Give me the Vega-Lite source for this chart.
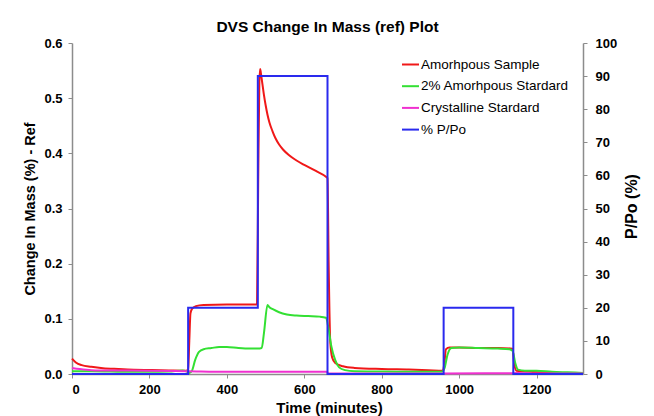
{
  "$schema": "https://vega.github.io/schema/vega-lite/v6.json",
  "width": 511,
  "height": 331,
  "autosize": "none",
  "padding": {"left": 72, "top": 43, "right": 71, "bottom": 42},
  "background": "white",
  "config": {
    "font": "Liberation Sans",
    "view": {"stroke": null},
    "axis": {
      "grid": false,
      "domainColor": "#8c8c8c",
      "domainWidth": 1.5,
      "tickColor": "#8c8c8c",
      "tickWidth": 1,
      "tickSize": 4,
      "labelFont": "Liberation Sans",
      "labelFontWeight": "bold",
      "labelFontSize": 13,
      "labelColor": "#000000",
      "titleFont": "Liberation Sans",
      "titleFontWeight": "bold",
      "titleFontSize": 14.5,
      "titleColor": "#000000"
    }
  },
  "title": {
    "text": "DVS Change In Mass (ref) Plot",
    "font": "Liberation Sans",
    "fontSize": 15.5,
    "fontWeight": "bold",
    "color": "#000000",
    "anchor": "middle",
    "baseline": "alphabetic",
    "offset": 14,
    "dy": 24
  },
  "datasets": {
    "mass": [
      {"s": "Amorhpous Sample", "t": 0, "v": 0.028},
      {"s": "Amorhpous Sample", "t": 10, "v": 0.021},
      {"s": "Amorhpous Sample", "t": 25, "v": 0.016},
      {"s": "Amorhpous Sample", "t": 50, "v": 0.013},
      {"s": "Amorhpous Sample", "t": 80, "v": 0.0105},
      {"s": "Amorhpous Sample", "t": 120, "v": 0.009},
      {"s": "Amorhpous Sample", "t": 160, "v": 0.0078},
      {"s": "Amorhpous Sample", "t": 200, "v": 0.0072},
      {"s": "Amorhpous Sample", "t": 250, "v": 0.0065},
      {"s": "Amorhpous Sample", "t": 295, "v": 0.006},
      {"s": "Amorhpous Sample", "t": 300, "v": 0.008},
      {"s": "Amorhpous Sample", "t": 303, "v": 0.06},
      {"s": "Amorhpous Sample", "t": 306, "v": 0.11},
      {"s": "Amorhpous Sample", "t": 310, "v": 0.118},
      {"s": "Amorhpous Sample", "t": 320, "v": 0.123},
      {"s": "Amorhpous Sample", "t": 340, "v": 0.125},
      {"s": "Amorhpous Sample", "t": 400, "v": 0.126},
      {"s": "Amorhpous Sample", "t": 460, "v": 0.126},
      {"s": "Amorhpous Sample", "t": 478, "v": 0.126},
      {"s": "Amorhpous Sample", "t": 481, "v": 0.35},
      {"s": "Amorhpous Sample", "t": 484, "v": 0.53},
      {"s": "Amorhpous Sample", "t": 486, "v": 0.553},
      {"s": "Amorhpous Sample", "t": 488, "v": 0.545},
      {"s": "Amorhpous Sample", "t": 492, "v": 0.525},
      {"s": "Amorhpous Sample", "t": 496, "v": 0.505},
      {"s": "Amorhpous Sample", "t": 500, "v": 0.488},
      {"s": "Amorhpous Sample", "t": 505, "v": 0.47},
      {"s": "Amorhpous Sample", "t": 510, "v": 0.456},
      {"s": "Amorhpous Sample", "t": 518, "v": 0.44},
      {"s": "Amorhpous Sample", "t": 526, "v": 0.427},
      {"s": "Amorhpous Sample", "t": 535, "v": 0.416},
      {"s": "Amorhpous Sample", "t": 545, "v": 0.407},
      {"s": "Amorhpous Sample", "t": 560, "v": 0.397},
      {"s": "Amorhpous Sample", "t": 580, "v": 0.387},
      {"s": "Amorhpous Sample", "t": 600, "v": 0.379},
      {"s": "Amorhpous Sample", "t": 630, "v": 0.368},
      {"s": "Amorhpous Sample", "t": 657, "v": 0.357},
      {"s": "Amorhpous Sample", "t": 660, "v": 0.355},
      {"s": "Amorhpous Sample", "t": 663, "v": 0.2},
      {"s": "Amorhpous Sample", "t": 667, "v": 0.06},
      {"s": "Amorhpous Sample", "t": 672, "v": 0.03},
      {"s": "Amorhpous Sample", "t": 680, "v": 0.02},
      {"s": "Amorhpous Sample", "t": 700, "v": 0.014},
      {"s": "Amorhpous Sample", "t": 730, "v": 0.011},
      {"s": "Amorhpous Sample", "t": 800, "v": 0.009},
      {"s": "Amorhpous Sample", "t": 870, "v": 0.008},
      {"s": "Amorhpous Sample", "t": 920, "v": 0.007},
      {"s": "Amorhpous Sample", "t": 958, "v": 0.006},
      {"s": "Amorhpous Sample", "t": 962, "v": 0.02},
      {"s": "Amorhpous Sample", "t": 966, "v": 0.045},
      {"s": "Amorhpous Sample", "t": 975, "v": 0.048},
      {"s": "Amorhpous Sample", "t": 1000, "v": 0.048},
      {"s": "Amorhpous Sample", "t": 1050, "v": 0.047},
      {"s": "Amorhpous Sample", "t": 1100, "v": 0.047},
      {"s": "Amorhpous Sample", "t": 1138, "v": 0.046},
      {"s": "Amorhpous Sample", "t": 1142, "v": 0.02},
      {"s": "Amorhpous Sample", "t": 1148, "v": 0.006},
      {"s": "Amorhpous Sample", "t": 1180, "v": 0.004},
      {"s": "Amorhpous Sample", "t": 1220, "v": 0.003},
      {"s": "Amorhpous Sample", "t": 1260, "v": 0.002},
      {"s": "Amorhpous Sample", "t": 1320, "v": 0.002},

      {"s": "2% Amorhpous Stardard", "t": 0, "v": 0.005},
      {"s": "2% Amorhpous Stardard", "t": 50, "v": 0.005},
      {"s": "2% Amorhpous Stardard", "t": 100, "v": 0.0045},
      {"s": "2% Amorhpous Stardard", "t": 150, "v": 0.004},
      {"s": "2% Amorhpous Stardard", "t": 200, "v": 0.004},
      {"s": "2% Amorhpous Stardard", "t": 250, "v": 0.0045},
      {"s": "2% Amorhpous Stardard", "t": 285, "v": 0.0065},
      {"s": "2% Amorhpous Stardard", "t": 295, "v": 0.005},
      {"s": "2% Amorhpous Stardard", "t": 303, "v": 0.002},
      {"s": "2% Amorhpous Stardard", "t": 310, "v": 0.006},
      {"s": "2% Amorhpous Stardard", "t": 318, "v": 0.025},
      {"s": "2% Amorhpous Stardard", "t": 328, "v": 0.04},
      {"s": "2% Amorhpous Stardard", "t": 340, "v": 0.045},
      {"s": "2% Amorhpous Stardard", "t": 360, "v": 0.047},
      {"s": "2% Amorhpous Stardard", "t": 380, "v": 0.049},
      {"s": "2% Amorhpous Stardard", "t": 400, "v": 0.049},
      {"s": "2% Amorhpous Stardard", "t": 430, "v": 0.047},
      {"s": "2% Amorhpous Stardard", "t": 460, "v": 0.046},
      {"s": "2% Amorhpous Stardard", "t": 480, "v": 0.046},
      {"s": "2% Amorhpous Stardard", "t": 490, "v": 0.047},
      {"s": "2% Amorhpous Stardard", "t": 496, "v": 0.075},
      {"s": "2% Amorhpous Stardard", "t": 505, "v": 0.125},
      {"s": "2% Amorhpous Stardard", "t": 510, "v": 0.121},
      {"s": "2% Amorhpous Stardard", "t": 520, "v": 0.117},
      {"s": "2% Amorhpous Stardard", "t": 535, "v": 0.112},
      {"s": "2% Amorhpous Stardard", "t": 555, "v": 0.108},
      {"s": "2% Amorhpous Stardard", "t": 580, "v": 0.106},
      {"s": "2% Amorhpous Stardard", "t": 610, "v": 0.105},
      {"s": "2% Amorhpous Stardard", "t": 640, "v": 0.104},
      {"s": "2% Amorhpous Stardard", "t": 656, "v": 0.102},
      {"s": "2% Amorhpous Stardard", "t": 662, "v": 0.085},
      {"s": "2% Amorhpous Stardard", "t": 670, "v": 0.05},
      {"s": "2% Amorhpous Stardard", "t": 680, "v": 0.025},
      {"s": "2% Amorhpous Stardard", "t": 690, "v": 0.012},
      {"s": "2% Amorhpous Stardard", "t": 705, "v": 0.007},
      {"s": "2% Amorhpous Stardard", "t": 730, "v": 0.005},
      {"s": "2% Amorhpous Stardard", "t": 800, "v": 0.0045},
      {"s": "2% Amorhpous Stardard", "t": 880, "v": 0.004},
      {"s": "2% Amorhpous Stardard", "t": 955, "v": 0.004},
      {"s": "2% Amorhpous Stardard", "t": 962, "v": 0.01},
      {"s": "2% Amorhpous Stardard", "t": 970, "v": 0.035},
      {"s": "2% Amorhpous Stardard", "t": 980, "v": 0.047},
      {"s": "2% Amorhpous Stardard", "t": 1000, "v": 0.048},
      {"s": "2% Amorhpous Stardard", "t": 1050, "v": 0.047},
      {"s": "2% Amorhpous Stardard", "t": 1100, "v": 0.046},
      {"s": "2% Amorhpous Stardard", "t": 1130, "v": 0.045},
      {"s": "2% Amorhpous Stardard", "t": 1138, "v": 0.042},
      {"s": "2% Amorhpous Stardard", "t": 1145, "v": 0.02},
      {"s": "2% Amorhpous Stardard", "t": 1152, "v": 0.008},
      {"s": "2% Amorhpous Stardard", "t": 1170, "v": 0.006},
      {"s": "2% Amorhpous Stardard", "t": 1200, "v": 0.006},
      {"s": "2% Amorhpous Stardard", "t": 1240, "v": 0.004},
      {"s": "2% Amorhpous Stardard", "t": 1280, "v": 0.003},
      {"s": "2% Amorhpous Stardard", "t": 1320, "v": 0.002},

      {"s": "Crystalline Stardard", "t": 0, "v": 0.011},
      {"s": "Crystalline Stardard", "t": 20, "v": 0.009},
      {"s": "Crystalline Stardard", "t": 50, "v": 0.007},
      {"s": "Crystalline Stardard", "t": 100, "v": 0.0063},
      {"s": "Crystalline Stardard", "t": 200, "v": 0.006},
      {"s": "Crystalline Stardard", "t": 300, "v": 0.005},
      {"s": "Crystalline Stardard", "t": 400, "v": 0.004},
      {"s": "Crystalline Stardard", "t": 480, "v": 0.004},
      {"s": "Crystalline Stardard", "t": 600, "v": 0.004},
      {"s": "Crystalline Stardard", "t": 658, "v": 0.004},
      {"s": "Crystalline Stardard", "t": 662, "v": 0.001},
      {"s": "Crystalline Stardard", "t": 800, "v": 0.001},
      {"s": "Crystalline Stardard", "t": 960, "v": 0.001},
      {"s": "Crystalline Stardard", "t": 1140, "v": 0.0015},
      {"s": "Crystalline Stardard", "t": 1150, "v": 0.002},
      {"s": "Crystalline Stardard", "t": 1200, "v": 0.001},
      {"s": "Crystalline Stardard", "t": 1320, "v": 0.001}
    ],
    "ppo": [
      {"s": "% P/Po", "i": 0, "t": 0, "p": 0},
      {"s": "% P/Po", "i": 1, "t": 300, "p": 0},
      {"s": "% P/Po", "i": 2, "t": 300, "p": 20},
      {"s": "% P/Po", "i": 3, "t": 480, "p": 20},
      {"s": "% P/Po", "i": 4, "t": 480, "p": 90},
      {"s": "% P/Po", "i": 5, "t": 660, "p": 90},
      {"s": "% P/Po", "i": 6, "t": 660, "p": 0},
      {"s": "% P/Po", "i": 7, "t": 960, "p": 0},
      {"s": "% P/Po", "i": 8, "t": 960, "p": 20},
      {"s": "% P/Po", "i": 9, "t": 1140, "p": 20},
      {"s": "% P/Po", "i": 10, "t": 1140, "p": 0},
      {"s": "% P/Po", "i": 11, "t": 1320, "p": 0}
    ]
  },
  "layer": [
    {
      "data": {"name": "mass"},
      "mark": {"type": "line", "strokeWidth": 2, "interpolate": "monotone"},
      "encoding": {
        "x": {
          "field": "t", "type": "quantitative",
          "scale": {"domain": [0, 1320], "nice": false, "zero": false},
          "axis": {
            "title": "Time (minutes)",
            "titleFontSize": 15,
            "values": [0, 200, 400, 600, 800, 1000, 1200],
            "format": "d",
            "labelPadding": 5,
            "titleX": 257, "titleY": 33, "titleBaseline": "middle", "titleAnchor": "middle"
          }
        },
        "y": {
          "field": "v", "type": "quantitative",
          "scale": {"domain": [0, 0.6], "nice": false},
          "axis": {
            "title": "Change In Mass (%) - Ref",
            "values": [0, 0.1, 0.2, 0.3, 0.4, 0.5, 0.6],
            "format": ".1f",
            "labelPadding": 6,
            "titleAngle": -90, "titleX": -42, "titleY": 165.5, "titleBaseline": "middle", "titleAnchor": "middle"
          }
        },
        "color": {
          "field": "s", "type": "nominal",
          "scale": {
            "domain": ["Amorhpous Sample", "2% Amorhpous Stardard", "Crystalline Stardard", "% P/Po"],
            "range": ["#f01818", "#33e033", "#f030d0", "#2a2aee"]
          },
          "legend": {
            "title": null,
            "orient": "none",
            "legendX": 329,
            "legendY": 12,
            "padding": 0,
            "symbolType": "stroke",
            "symbolSize": 289,
            "symbolStrokeWidth": 2,
            "labelFont": "Liberation Sans",
            "labelFontSize": 13.5,
            "labelColor": "#000000",
            "labelOffset": 1,
            "rowPadding": 5.7
          }
        }
      }
    },
    {
      "data": {"name": "ppo"},
      "mark": {"type": "line", "strokeWidth": 2},
      "encoding": {
        "x": {"field": "t", "type": "quantitative"},
        "y": {
          "field": "p", "type": "quantitative",
          "scale": {"domain": [0, 100], "nice": false},
          "axis": {
            "orient": "right",
            "title": "P/Po (%)",
            "titleFontSize": 16,
            "values": [0, 10, 20, 30, 40, 50, 60, 70, 80, 90, 100],
            "labelPadding": 8,
            "titleAngle": -90, "titleX": 48, "titleY": 163, "titleBaseline": "middle", "titleAnchor": "middle"
          }
        },
        "order": {"field": "i", "type": "quantitative"},
        "color": {"field": "s", "type": "nominal"}
      }
    }
  ],
  "resolve": {"scale": {"y": "independent"}}
}
